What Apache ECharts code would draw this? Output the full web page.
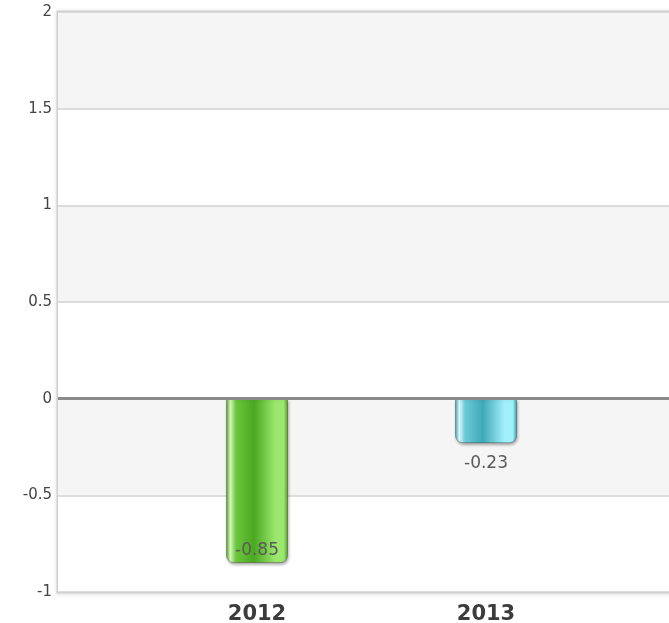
<!DOCTYPE html>
<html>
<head>
<meta charset="utf-8">
<script src="https://cdn.jsdelivr.net/npm/echarts@6/dist/echarts.min.js"></script>
<style>
  html, body { margin: 0; padding: 0; background: #fff; }
  #main { width: 669px; height: 623px; }
</style>
</head>
<body>
<div id="main"></div>
<script>
// 数据
const years = [2012, 2013];
const values = [-0.85, -0.23];

// 柱子渐变色
function barGradient(edge, shine, mid, dark, light) {
  return new echarts.graphic.LinearGradient(0, 0, 1, 0, [
    { offset: 0, color: edge },
    { offset: 0.07, color: shine },
    { offset: 0.16, color: mid },
    { offset: 0.45, color: dark },
    { offset: 0.8, color: light },
    { offset: 0.93, color: light },
    { offset: 1, color: edge }
  ]);
}
const barColors = [
  barGradient('#4f9e24', '#d6f7bd', '#6cc63c', '#4aa821', '#9ce86e'),
  barGradient('#3a9fae', '#dcf9ff', '#6ccad8', '#3fa9b9', '#a2f0fb')
];
const labelPos = ['insideBottom', 'bottom'];
const labelGap = [4, 12];

let chart = echarts.init(document.getElementById('main'));
chart.setOption({
  animation: false,
  grid: {
    left: 58, top: 12, bottom: 31, width: 640,
    outerBoundsMode: 'none',
    show: true,
    borderColor: '#cfcfcf',
    borderWidth: 3,
    shadowColor: 'rgba(0,0,0,0.15)',
    shadowBlur: 4,
    shadowOffsetY: 1
  },
  xAxis: {
    type: 'value',
    min: 2011.131,
    max: 2013.9258,
    axisLine: { show: false },
    axisTick: { show: false },
    splitLine: { show: false },
    axisLabel: {
      customValues: years,
      formatter: v => String(Math.round(v)),
      fontFamily: 'DejaVu Sans',
      fontWeight: 'bold',
      fontSize: 21,
      color: '#3c3c3c',
      margin: 12
    }
  },
  yAxis: {
    type: 'value',
    min: -1,
    max: 2,
    interval: 0.5,
    axisLine: { show: false },
    axisTick: { show: false },
    axisLabel: {
      fontFamily: 'DejaVu Sans',
      fontSize: 15,
      color: '#444',
      margin: 6,
      formatter: v => String(v)
    },
    splitLine: { lineStyle: { color: '#d2d2d2', width: 1.5 } },
    splitArea: { show: true, areaStyle: { color: ['#ffffff', '#f5f5f5'] } }
  },
  series: [{
    type: 'bar',
    barWidth: 62,
    data: years.map((y, i) => ({
      value: [y, values[i]],
      itemStyle: { color: barColors[i] },
      label: { position: labelPos[i], distance: labelGap[i] }
    })),
    itemStyle: {
      borderRadius: [0, 0, 7, 7],
      borderColor: 'rgba(0,0,0,0.25)',
      borderWidth: 1,
      shadowColor: 'rgba(0,0,0,0.35)',
      shadowBlur: 3,
      shadowOffsetX: 1,
      shadowOffsetY: 2
    },
    label: {
      show: true,
      fontFamily: 'DejaVu Sans',
      fontSize: 17,
      color: '#5a5a5a',
      formatter: p => String(p.value[1])
    },
    markLine: {
      silent: true,
      symbol: 'none',
      label: { show: false },
      lineStyle: { color: '#8a8a8a', width: 3, type: 'solid' },
      data: [{ yAxis: 0 }]
    }
  }]
});
</script>
</body>
</html>
